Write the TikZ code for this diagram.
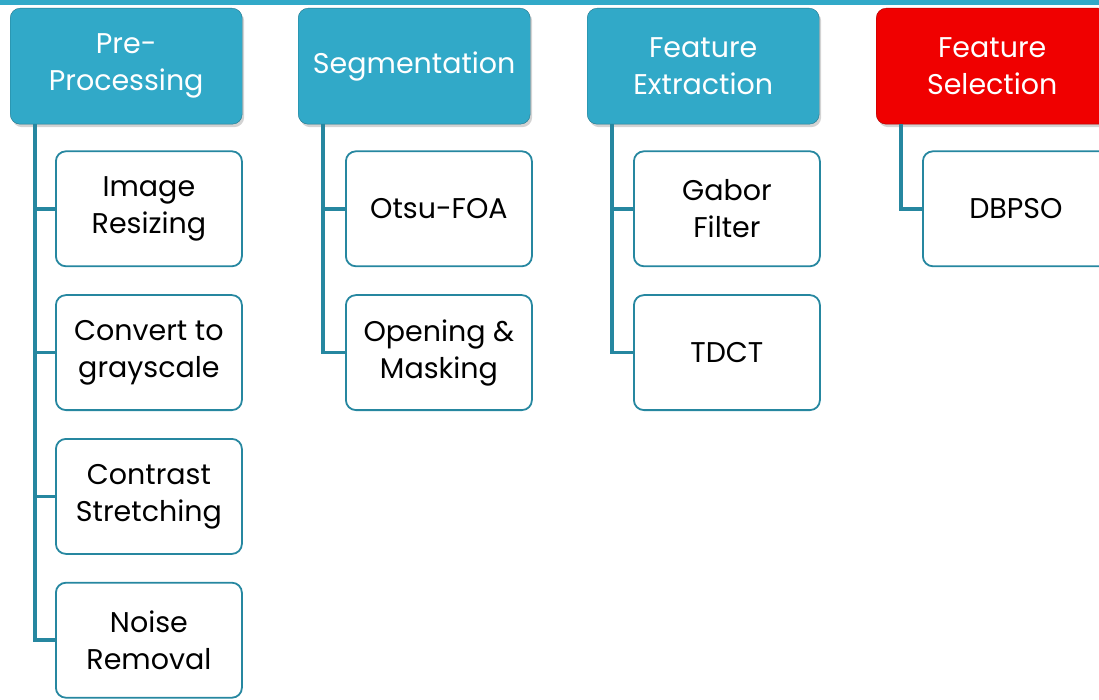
\documentclass[tikz,border=0pt]{standalone}
\usepackage{fontspec}
\setmainfont{Poppins}
\usetikzlibrary{positioning, shadows}
\definecolor{stageblue}{RGB}{49,169,200}
\definecolor{linkblue}{RGB}{38,135,160}
\definecolor{selred}{RGB}{240,0,0}

\begin{document}
\begin{tikzpicture}[x=1pt, y=-1pt,
  every node/.style={inner sep=2pt},
  head/.style={draw=stageblue!70!black, fill=stageblue, rounded corners=10pt,
               minimum width=232pt, minimum height=116pt, anchor=north west,
               text=white, align=center, font=\fontsize{28.5}{37}\selectfont,
               drop shadow={shadow xshift=2pt, shadow yshift=-3pt, opacity=0.35}},
  leaf/.style={draw=linkblue, line width=1.8pt, fill=white, rounded corners=10pt,
               minimum width=186pt, minimum height=115pt,
               align=center, font=\fontsize{28.5}{37}\selectfont},
  link/.style={linkblue, line width=3.5pt}]
\useasboundingbox (0,0) rectangle (1099,700);
\clip (0,0) rectangle (1099,700);
\fill[stageblue] (0,0) rectangle (1099,5);
% stages
\node[head] (pre) at (10,8) {Pre-\\Processing};
\node[head] (seg) at (298,8) {Segmentation};
\node[head] (fext) at (587,8) {Feature\\Extraction};
\node[head, fill=selred, draw=selred!70!black] (fsel) at (876,8) {Feature\\Selection};
% pre-processing steps
\node[leaf, below=26pt of pre.south west, anchor=north west, xshift=45pt] (pre1) {Image\\Resizing};
\node[leaf, below=27pt of pre1] (pre2) {Convert to\\grayscale};
\node[leaf, below=27pt of pre2] (pre3) {Contrast\\Stretching};
\node[leaf, below=27pt of pre3] (pre4) {Noise\\Removal};
% segmentation steps
\node[leaf, below=26pt of seg.south west, anchor=north west, xshift=47pt] (seg1) {Otsu-FOA};
\node[leaf, below=27pt of seg1] (seg2) {Opening \&\\Masking};
% feature extraction steps
\node[leaf, below=26pt of fext.south west, anchor=north west, xshift=46pt] (fext1) {Gabor\\Filter};
\node[leaf, below=27pt of fext1] (fext2) {TDCT};
% feature selection step
\node[leaf, below=26pt of fsel.south west, anchor=north west, xshift=46pt] (fsel1) {DBPSO};
% links
\foreach \s/\n in {pre/pre1, pre/pre2, pre/pre3, pre/pre4, seg/seg1, seg/seg2,
                   fext/fext1, fext/fext2, fsel/fsel1}
  \draw[link] ([xshift=25pt]\s.south west) |- (\n.west);
\end{tikzpicture}
\end{document}
